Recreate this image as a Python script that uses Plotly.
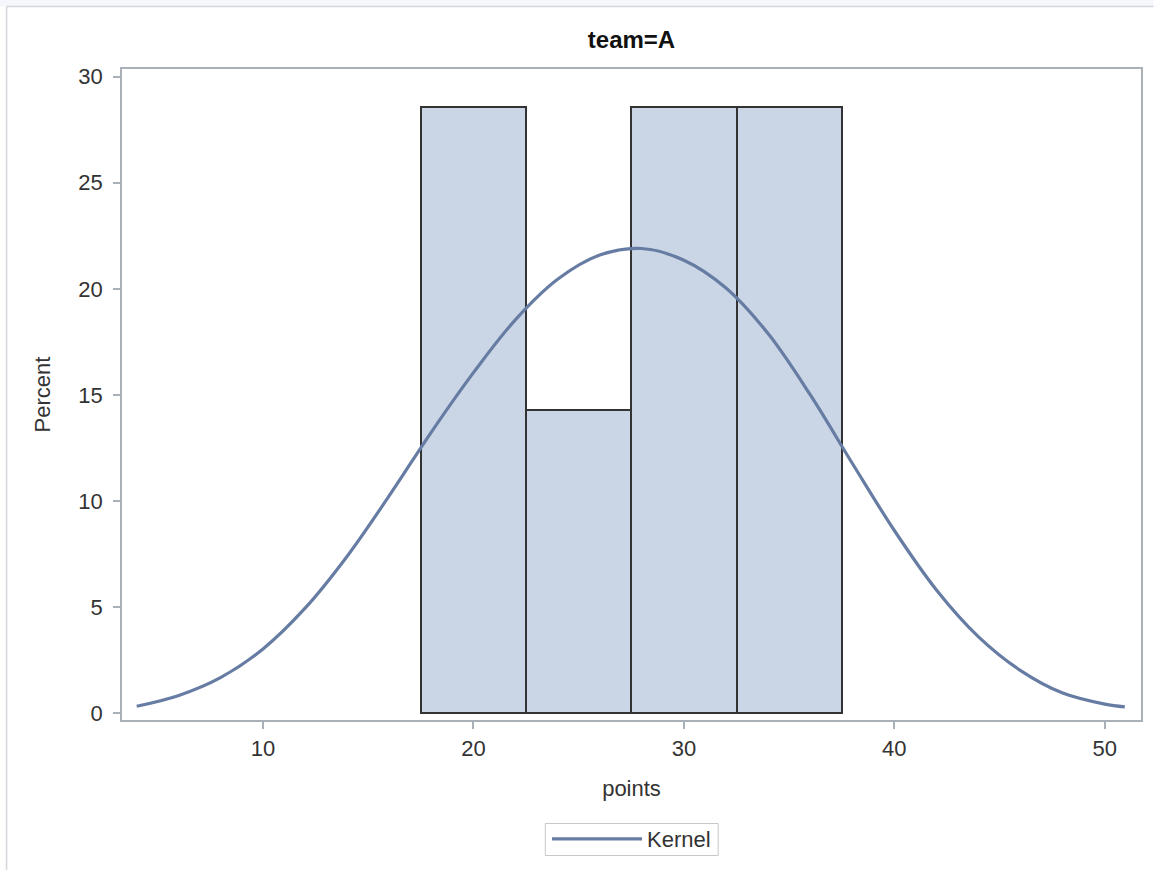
import plotly.graph_objects as go

# Histogram of points for team A (bin midpoints, bin width, percent of observations)
bin_mids = [20, 25, 30, 35]
bin_width = 5
bin_percent = [28.571, 14.286, 28.571, 28.571]

# Kernel density estimate, expressed in percent units
kernel_x = [4, 6, 8, 10, 12, 14, 16, 18, 20, 22, 24, 26, 28,
            30, 32, 34, 36, 38, 40, 42, 44, 46, 48, 50, 50.95]
kernel_y = [0.33, 0.84, 1.69, 3.03, 4.95, 7.40, 10.25, 13.25, 16.05, 18.55,
            20.45, 21.59, 21.90, 21.35, 20.04, 17.89, 15.01, 11.78, 8.61,
            5.81, 3.60, 2.01, 0.95, 0.43, 0.30]

x_ticks = [10, 20, 30, 40, 50]
y_ticks = [0, 5, 10, 15, 20, 25, 30]

W, H = 1154, 870
L, R, T, B = 122, 12.5, 69, 150
plot_w = W - L - R
plot_h = H - T - B

FONT = "Liberation Sans, Arial, sans-serif"
TEXT = "#333333"
FRAME = "#a9b0b7"
FS = 22

fig = go.Figure()

fig.add_trace(go.Bar(
    x=bin_mids, y=bin_percent, width=[bin_width] * len(bin_mids),
    marker=dict(color="#cad5e5", line=dict(color="#333333", width=2)),
    showlegend=False, hoverinfo="x+y",
))

fig.add_trace(go.Scatter(
    x=kernel_x, y=kernel_y, mode="lines", name="Kernel",
    line=dict(color="#667ca3", width=3.2, shape="spline", smoothing=1.0),
))

def px_x(p):
    return (p - L) / plot_w

def px_y(p):
    return (H - B - p) / plot_h

# Output frame around the graph: pale top strip with thin border lines
fig.add_shape(type="rect", xref="paper", yref="paper",
              x0=px_x(0), x1=px_x(W), y0=px_y(6.5), y1=px_y(0),
              fillcolor="#f5f7fc", line=dict(width=0), layer="below")
fig.add_shape(type="line", xref="paper", yref="paper",
              x0=px_x(6.5), x1=px_x(W), y0=px_y(6.5), y1=px_y(6.5),
              line=dict(color="#d3d6db", width=1.5))
fig.add_shape(type="line", xref="paper", yref="paper",
              x0=px_x(6.5), x1=px_x(6.5), y0=px_y(6.5), y1=px_y(H),
              line=dict(color="#d3d6db", width=1.5))
# Compact box around the legend
fig.add_shape(type="rect", xref="paper", yref="paper",
              x0=px_x(545.5), x1=px_x(718.5), y0=px_y(855.5), y1=px_y(823.5),
              line=dict(color="#c8c8c8", width=1), fillcolor="rgba(0,0,0,0)")

fig.update_layout(
    width=W, height=H,
    margin=dict(l=L, r=R, t=T, b=B, pad=0, autoexpand=False),
    paper_bgcolor="white", plot_bgcolor="white",
    font=dict(family=FONT, size=FS, color=TEXT),
    bargap=0,
    title=dict(text="<b>team=A</b>", xref="paper", x=0.5, xanchor="center",
               y=1 - 40 / H, yanchor="middle",
               font=dict(family=FONT, size=24, color="#111111")),
    showlegend=True,
    legend=dict(orientation="h", x=0.5, xanchor="center",
                y=px_y(839), yanchor="middle",
                bgcolor="rgba(0,0,0,0)", borderwidth=0,
                font=dict(family=FONT, size=FS, color=TEXT),
                itemwidth=90, tracegroupgap=0),
)

fig.update_xaxes(
    range=[3.30, 51.72], tickvals=x_ticks, ticks="outside", ticklen=7,
    tickwidth=1.5, tickcolor=FRAME, showline=True, linecolor=FRAME,
    linewidth=1.5, mirror=True, showgrid=False, zeroline=False,
    automargin=False, ticklabelstandoff=1,
    tickfont=dict(family=FONT, size=FS, color=TEXT),
    title=dict(text="points", standoff=20,
               font=dict(family=FONT, size=FS, color=TEXT)),
)
fig.update_yaxes(
    range=[-0.32, 30.36], tickvals=y_ticks, ticks="outside", ticklen=7,
    tickwidth=1.5, tickcolor=FRAME, showline=True, linecolor=FRAME,
    linewidth=1.5, mirror=True, showgrid=False, zeroline=False,
    automargin=False, ticklabelstandoff=6,
    tickfont=dict(family=FONT, size=FS, color=TEXT),
    title=dict(text="Percent", standoff=22,
               font=dict(family=FONT, size=FS, color=TEXT)),
)

fig.write_html("out.html")
